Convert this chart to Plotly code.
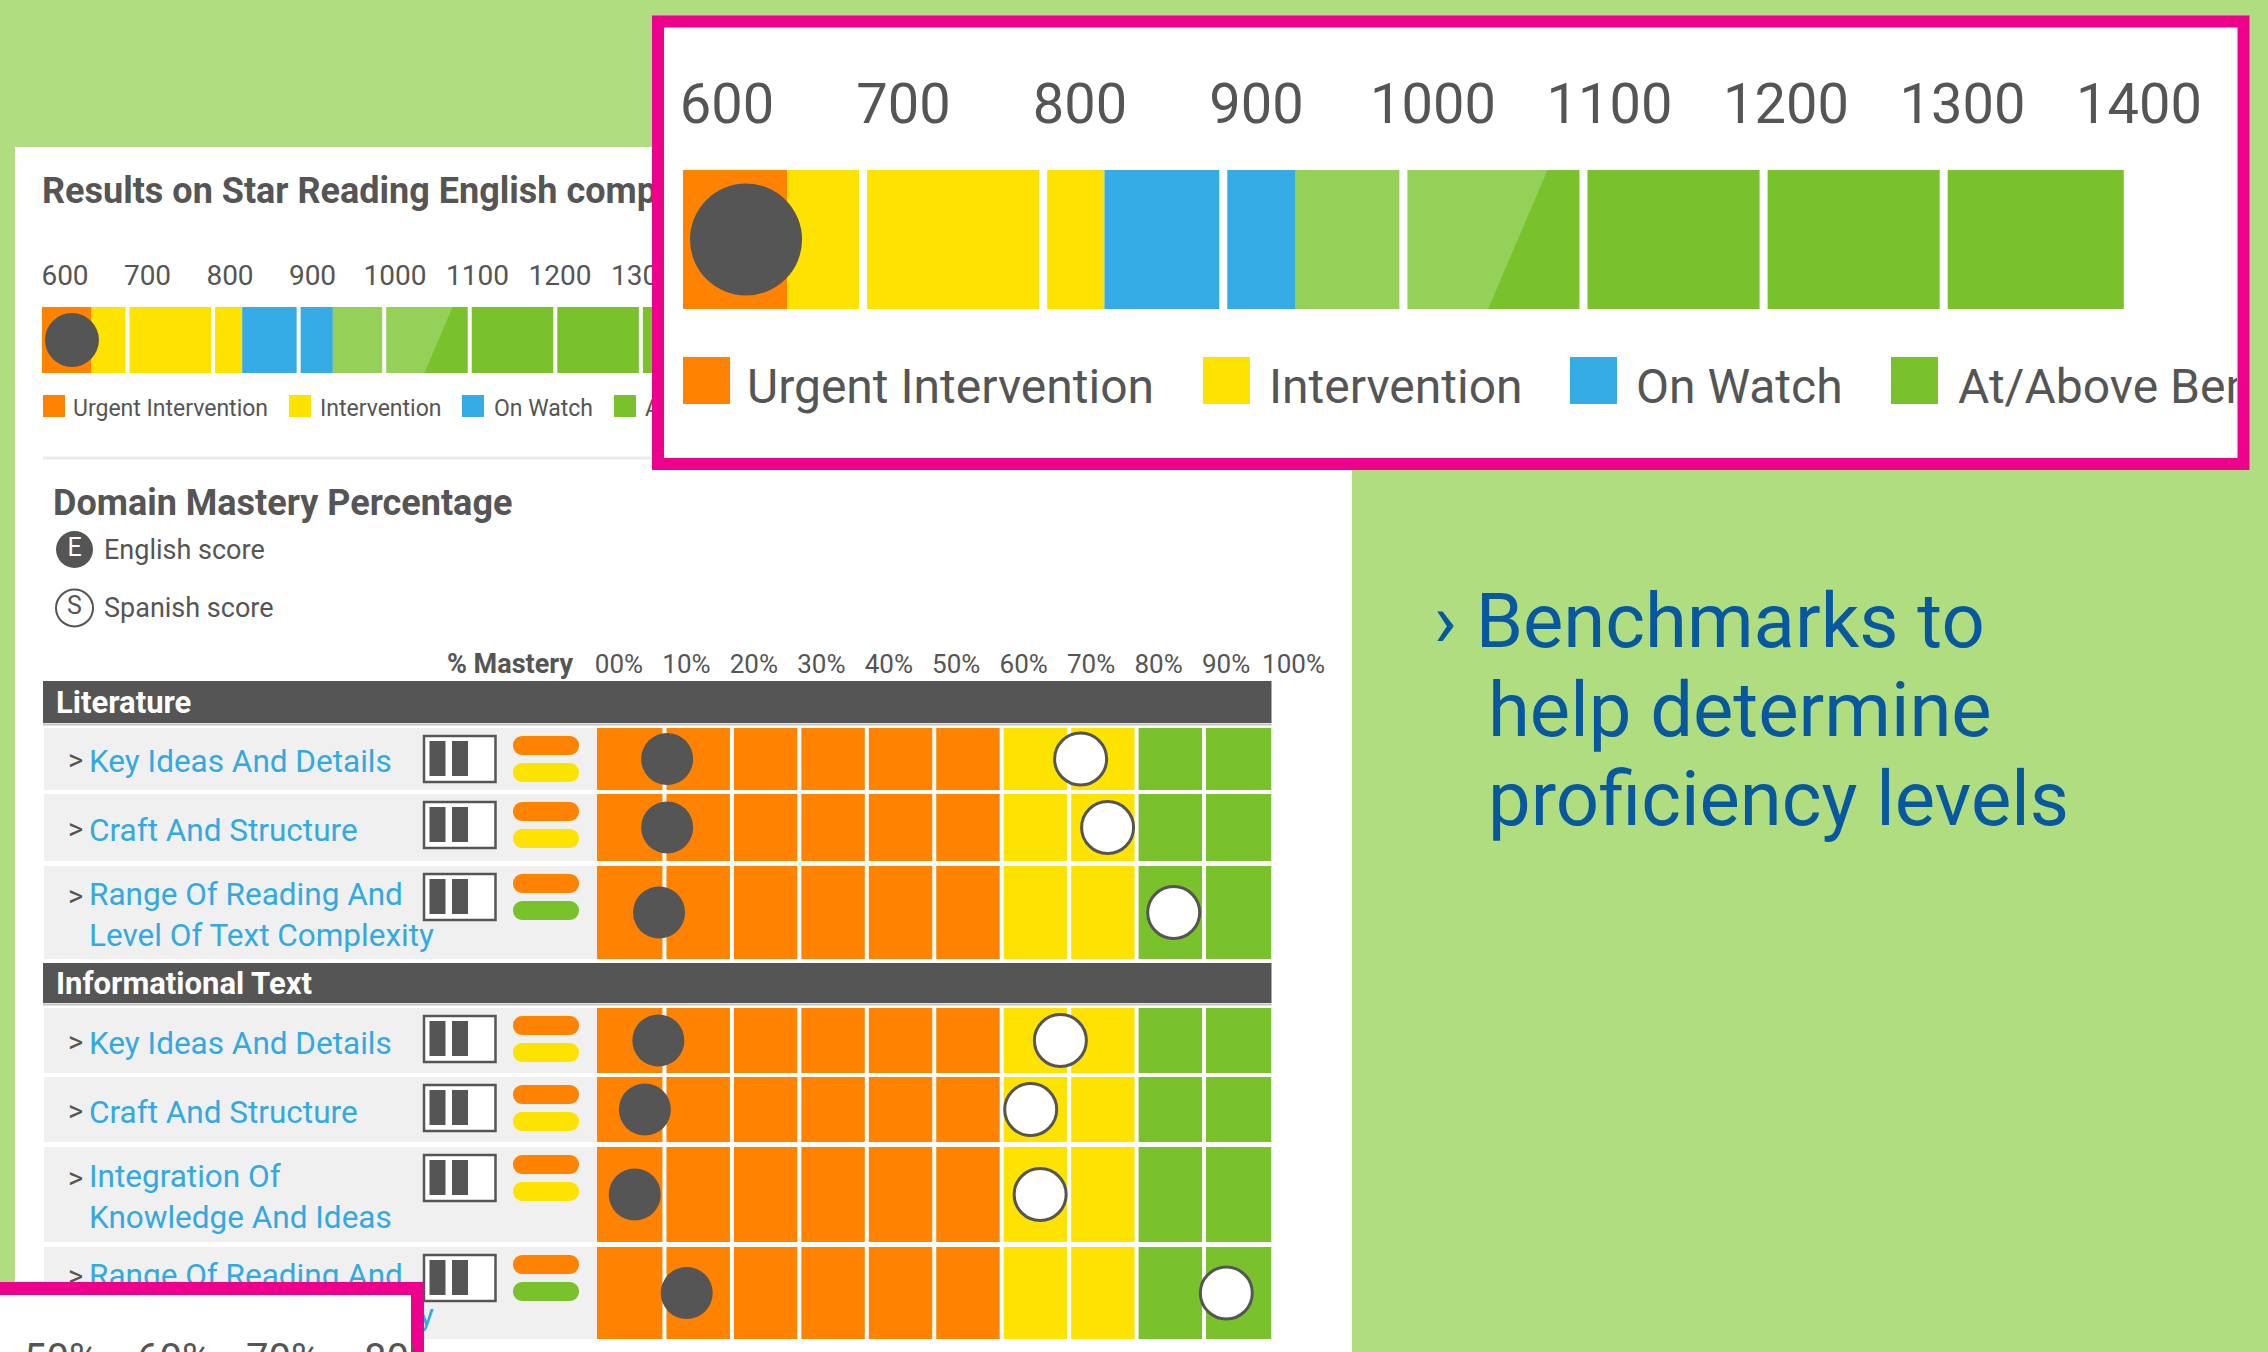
import plotly.graph_objects as go

W, H = 2268, 1352

# ---------------- data ----------------
band_names = ["Urgent Intervention", "Intervention", "On Watch", "At/Above Benchmark"]
band_start = [600, 658, 834, 940]
band_end = [658, 834, 940, 1400]
band_colors = ["#FF8200", "#FFE300", "#36ACE6", "#7AC22B"]
score_ticks = [600, 700, 800, 900, 1000, 1100, 1200, 1300, 1400]
student_score = 635
projection_top = 1080
projection_bottom = 1047

domain_names = ["Literature", "Informational Text"]
row_labels = ["Key Ideas And Details", "Craft And Structure",
              "Range Of Reading And<br>Level Of Text Complexity",
              "Key Ideas And Details", "Craft And Structure",
              "Integration Of<br>Knowledge And Ideas",
              "Range Of Reading And<br>Level Of Text Complexity"]
english_pct = [10.4, 10.4, 9.2, 9.1, 7.1, 5.6, 13.3]
spanish_pct = [71.7, 75.7, 85.5, 68.7, 64.3, 65.7, 93.3]
mastery_ticks = [0, 10, 20, 30, 40, 50, 60, 70, 80, 90, 100]
mastery_tick_text = ["00%", "10%", "20%", "30%", "40%", "50%", "60%", "70%", "80%", "90%", "100%"]
mastery_cuts = [60, 80]
mastery_colors = ["#FF8200", "#FFE300", "#7AC22B"]
zoom_tick_text = ["50%", "60%", "70%", "80%"]

# ---------------- styles / layout constants ----------------
GREEN_BG = "#AFDD80"
PINK = "#EC008C"
DARK = "#555555"
LABEL_BLUE = "#33A9E2"
TEXT_BLUE = "#07589E"
ROW_BG = "#F0F0F0"
LIGHT_GREEN = "#95D159"
FONT = "Roboto"
TEXT_DROP = 0.1               # baseline correction, in em

row_top = [728, 794, 866, 1008, 1077, 1147, 1247]
row_bot = [790, 861, 959, 1073, 1142, 1242, 1339]
header_top = [681, 963]
header_bot = [723, 1003]
group_rows = [[0, 1, 2], [3, 4, 5, 6]]

S0, S_SLOPE = 42, 0.8555      # small bar: px of 600, px per unit
SL0, SL_SLOPE = 65, 0.825     # small labels
CLIP_SMALL = 652
M0, M_SLOPE = 683, 1.801      # magnified bar
ML0, ML_SLOPE = 727, 1.765
CLIP_BIG = 2237
G0, G1 = 597, 1271.5          # mastery grid
GL_OFF = 22
GL_END = 1345                 # label axis right end


def px(x):
    return x / W


def py(y):
    return 1 - y / H


def hidden(domain, rng):
    return dict(domain=domain, range=rng, visible=False, fixedrange=True,
                anchor="y", showgrid=False, zeroline=False)


def band_color(v):
    if v < mastery_cuts[0]:
        return mastery_colors[0]
    if v < mastery_cuts[1]:
        return mastery_colors[1]
    return mastery_colors[2]


fig = go.Figure()
NOHOVER = dict(hoverinfo="skip", showlegend=False)


def score_bar(xa, cy, h, msize, gap):
    top, bot = cy - h / 2, cy + h / 2
    fig.add_trace(go.Bar(orientation="h", base=band_start,
                         x=[e - s for s, e in zip(band_start, band_end)],
                         y=[cy] * len(band_start), width=[h] * len(band_start),
                         marker=dict(color=band_colors, line=dict(width=0)),
                         xaxis=xa, yaxis="y", **NOHOVER))
    fig.add_trace(go.Scatter(x=[band_start[3], projection_top, projection_bottom, band_start[3]],
                             y=[top, top, bot, bot], fill="toself", fillcolor=LIGHT_GREEN,
                             mode="lines", line=dict(width=0), xaxis=xa, yaxis="y", **NOHOVER))
    xs, ys = [], []
    for t in score_ticks[1:-1]:
        xs += [t, t, None]
        ys += [top - 1, bot + 1, None]
    fig.add_trace(go.Scatter(x=xs, y=ys, mode="lines", line=dict(color="white", width=gap),
                             xaxis=xa, yaxis="y", **NOHOVER))
    fig.add_trace(go.Scatter(x=[student_score], y=[cy], mode="markers",
                             marker=dict(size=msize, color=DARK, line=dict(width=0)),
                             xaxis=xa, yaxis="y", **NOHOVER))


def text_trace(xa, x, y, text, size, color, pos="middle right", weight=400, clip=True):
    fig.add_trace(go.Scatter(x=x, y=[v + TEXT_DROP * size for v in y], text=text, mode="text",
                             textposition=pos,
                             textfont=dict(family=FONT, size=size, color=color, weight=weight),
                             cliponaxis=clip, xaxis=xa, yaxis="y", **NOHOVER))


# ---------- small results chart ----------
text_trace("x4", [42], [190], ["Results on Star Reading English compared to Spanish"], 36, DARK, weight=700)
text_trace("x3", score_ticks, [275.5] * len(score_ticks), [str(t) for t in score_ticks], 28, DARK, pos="middle center")
score_bar("x2", 340, 66, 54, 4)
small_sq_x = [54, 300, 473, 625]
small_tx_x = [73, 320, 494, 645]
fig.add_trace(go.Scatter(x=small_sq_x, y=[406] * 4, mode="markers",
                         marker=dict(symbol="square", size=22, color=band_colors, line=dict(width=0)),
                         xaxis="x4", yaxis="y", **NOHOVER))
text_trace("x4", small_tx_x, [408] * 4, band_names, 23, DARK)

# ---------- magnified results chart ----------
text_trace("x6", score_ticks, [103] * len(score_ticks), [str(t) for t in score_ticks], 56, DARK, pos="middle center")
score_bar("x5", 239.5, 139, 112, 8)
big_sq_x = [706.5, 1226.5, 1593.5, 1914.5]
big_tx_x = [747, 1269, 1636, 1958]
fig.add_trace(go.Scatter(x=big_sq_x, y=[380.5] * 4, mode="markers",
                         marker=dict(symbol="square", size=47, color=band_colors, line=dict(width=0)),
                         xaxis="x7", yaxis="y", **NOHOVER))
text_trace("x7", big_tx_x, [386] * 4, band_names, 48, DARK)

# ---------- domain mastery ----------
text_trace("x", [53], [502.5], ["Domain Mastery Percentage"], 36, DARK, weight=700)
fig.add_trace(go.Scatter(x=[74.5], y=[549.5], mode="markers+text", text=["E"], textposition="middle center",
                         textfont=dict(family=FONT, size=25, color="white"),
                         marker=dict(size=37, color=DARK, line=dict(width=0)),
                         xaxis="x", yaxis="y", **NOHOVER))
fig.add_trace(go.Scatter(x=[74.5], y=[608], mode="markers+text", text=["S"], textposition="middle center",
                         textfont=dict(family=FONT, size=25, color=DARK),
                         marker=dict(size=37, color="white", line=dict(width=2, color=DARK)),
                         xaxis="x", yaxis="y", **NOHOVER))
text_trace("x", [104, 104], [550, 608], ["English score", "Spanish score"], 27, DARK)
text_trace("x", [573], [664], ["% Mastery"], 27, DARK, pos="middle left", weight=700)
text_trace("x9", mastery_ticks, [664] * len(mastery_ticks), mastery_tick_text, 26, DARK,
           pos="middle center", clip=False)

# header labels
text_trace("x", [56, 56], [(t + b) / 2 for t, b in zip(header_top, header_bot)], domain_names, 31,
           "white", weight=700)

centers = [(t + b) / 2 for t, b in zip(row_top, row_bot)]
multi = ["<br>" in l for l in row_labels]
text_trace("x", [68] * 7, [c - 17 if m else c + 1 for c, m in zip(centers, multi)], [">"] * 7, 29, DARK)
text_trace("x", [89] * 7, [c + 2 for c in centers], row_labels, 31.5, LABEL_BLUE)

# grid cells
gx, gb, gy, gw, gc = [], [], [], [], []
for r in range(len(row_labels)):
    for c in mastery_ticks[:-1]:
        gb.append(c)
        gx.append(10)
        gy.append(centers[r])
        gw.append(row_bot[r] - row_top[r])
        gc.append(band_color(c))
fig.add_trace(go.Bar(orientation="h", base=gb, x=gx, y=gy, width=gw,
                     marker=dict(color=gc, line=dict(width=0)), xaxis="x8", yaxis="y", **NOHOVER))
sx, sy = [], []
for grp in group_rows:
    for t in mastery_ticks[1:-1]:
        sx += [t, t, None]
        sy += [row_top[grp[0]], row_bot[grp[-1]], None]
fig.add_trace(go.Scatter(x=sx, y=sy, mode="lines", line=dict(color="white", width=4),
                         xaxis="x8", yaxis="y", **NOHOVER))
fig.add_trace(go.Scatter(x=english_pct, y=centers, mode="markers",
                         marker=dict(size=52, color=DARK, line=dict(width=0)),
                         xaxis="x8", yaxis="y", **NOHOVER))
fig.add_trace(go.Scatter(x=spanish_pct, y=centers, mode="markers",
                         marker=dict(size=52, color="white", line=dict(width=3, color=DARK)),
                         xaxis="x8", yaxis="y", **NOHOVER))

# level pills
anchors = [t + 7 for t in row_top]
fig.add_trace(go.Bar(orientation="h", base=[513] * 14, x=[66] * 14,
                     y=[a + 10.5 for a in anchors] + [a + 37.5 for a in anchors],
                     width=[19] * 14,
                     marker=dict(color=[band_color(v) for v in english_pct] + [band_color(v) for v in spanish_pct],
                                 line=dict(width=0), cornerradius=9),
                     xaxis="x", yaxis="y", **NOHOVER))

# right-hand message
text_trace("x", [1434], [620], ["› Benchmarks to"], 76, TEXT_BLUE)
text_trace("x", [1488, 1488], [709, 798], ["help determine", "proficiency levels"], 76, TEXT_BLUE)

# ---------------- shapes ----------------
shapes = []
shapes.append(dict(type="rect", xref="paper", yref="paper", x0=px(15), x1=px(1352), y0=py(147), y1=py(1360),
                   fillcolor="white", line=dict(width=0), layer="below"))
shapes.append(dict(type="line", xref="paper", yref="paper", x0=px(43), x1=px(1330), y0=py(458), y1=py(458),
                   line=dict(color="#EBEBEB", width=3), layer="below"))
shapes.append(dict(type="rect", xref="paper", yref="paper", x0=px(658), x1=px(2243.5), y0=py(21.5), y1=py(464),
                   fillcolor="white", line=dict(color=PINK, width=12), layer="below"))
for t, b in zip(row_top, row_bot):
    shapes.append(dict(type="rect", xref="paper", yref="paper", x0=px(44), x1=px(597), y0=py(t), y1=py(b),
                       fillcolor=ROW_BG, line=dict(width=0), layer="below"))
for t, b in zip(header_top, header_bot):
    shapes.append(dict(type="rect", xref="paper", yref="paper", x0=px(43), x1=px(G1), y0=py(t), y1=py(b),
                       fillcolor=DARK, line=dict(width=0), layer="below"))
    shapes.append(dict(type="line", xref="paper", yref="paper", x0=px(43), x1=px(G1), y0=py(b + 1.5), y1=py(b + 1.5),
                       line=dict(color="#C4C4C4", width=2), layer="below"))
for a in anchors:
    shapes.append(dict(type="rect", xref="paper", yref="paper", x0=px(424), x1=px(495.5), y0=py(a + 1), y1=py(a + 47),
                       fillcolor="white", line=dict(color=DARK, width=2.5), layer="below"))
    for bx0, bx1 in [(429.5, 445.5), (452, 468)]:
        shapes.append(dict(type="rect", xref="paper", yref="paper", x0=px(bx0), x1=px(bx1), y0=py(a + 6),
                           y1=py(a + 41), fillcolor=DARK, line=dict(width=0), layer="below"))
shapes.append(dict(type="rect", xref="paper", yref="paper", x0=px(-20), x1=px(417.5), y0=py(1288.5), y1=py(1420),
                   fillcolor="white", line=dict(color=PINK, width=13), layer="above"))

annotations = []
for i, (t, x0) in enumerate(zip(zoom_tick_text, [22, 135, 244, 362])):
    annotations.append(dict(xref="paper", yref="paper", x=px(x0), y=py(1358), xanchor="left", yanchor="middle",
                            text=t, showarrow=False, align="left", width=(49 if i == 3 else None),
                            font=dict(family=FONT, size=40, color=DARK)))

GSLOPE = (G1 - G0) / 100
fig.update_layout(
    width=W, height=H, margin=dict(l=0, r=0, t=0, b=0),
    paper_bgcolor=GREEN_BG, plot_bgcolor="rgba(0,0,0,0)",
    barmode="overlay", showlegend=False, hovermode=False,
    shapes=shapes, annotations=annotations,
    xaxis=hidden([0, 1], [0, W]),
    xaxis2=hidden([px(S0), px(CLIP_SMALL)], [600, 600 + (CLIP_SMALL - S0) / S_SLOPE]),
    xaxis3=hidden([px(S0), px(CLIP_SMALL)], [600 - (SL0 - S0) / SL_SLOPE, 600 + (CLIP_SMALL - SL0) / SL_SLOPE]),
    xaxis4=hidden([0, px(CLIP_SMALL)], [0, CLIP_SMALL]),
    xaxis5=hidden([px(M0), px(CLIP_BIG)], [600, 600 + (CLIP_BIG - M0) / M_SLOPE]),
    xaxis6=hidden([px(M0), px(CLIP_BIG)], [600 - (ML0 - M0) / ML_SLOPE, 600 + (CLIP_BIG - ML0) / ML_SLOPE]),
    xaxis7=hidden([0, px(CLIP_BIG)], [0, CLIP_BIG]),
    xaxis8=hidden([px(G0), px(G1)], [0, 100]),
    xaxis9=hidden([px(G0), px(GL_END)], [-GL_OFF / GSLOPE, (GL_END - G0 - GL_OFF) / GSLOPE]),
    yaxis=dict(domain=[0, 1], range=[H, 0], visible=False, fixedrange=True, showgrid=False, zeroline=False),
)

fig.write_html("out.html", config={"displayModeBar": False},
               post_script="document.body.style.margin='0';document.body.style.overflow='hidden';")
